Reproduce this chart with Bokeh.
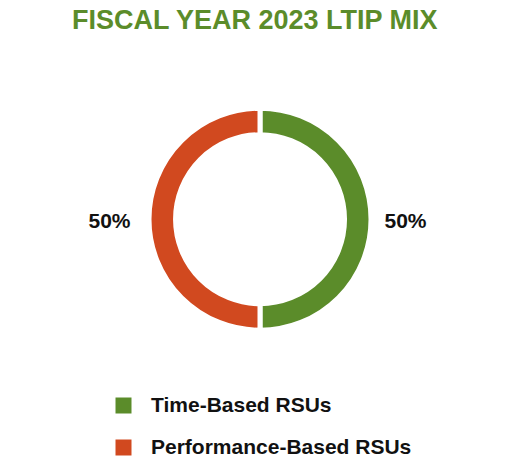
import math

from bokeh.plotting import figure
from bokeh.models import ColumnDataSource, Legend, LegendItem
from bokeh.embed import file_html
from bokeh.resources import INLINE

title = "FISCAL YEAR 2023 LTIP MIX"
categories = ["Time-Based RSUs", "Performance-Based RSUs"]
shares = [50, 50]
colors = ["#5B8C2A", "#D1491F"]

W, H = 510, 460
FONT = "Liberation Sans"

# wedge angles, starting at 12 o'clock and going clockwise
total = sum(shares)
starts, ends, mids = [], [], []
a = math.pi / 2
for v in shares:
    b = a - 2 * math.pi * v / total
    starts.append(a)
    ends.append(b)
    mids.append((a + b) / 2)
    a = b

cx, cy = 259.5, 239
r_lab = 148
src = ColumnDataSource(dict(
    cat=categories, share=shares, color=colors,
    start=starts, end=ends,
    lx=[cx - 2.5 + r_lab * math.cos(m) for m in mids],
    ly=[cy - 1.5 + r_lab * math.sin(m) for m in mids],
    lab=[f"{v}%" for v in shares],
))

p = figure(width=W, height=H, output_backend="svg", toolbar_location=None,
           x_range=(0, W), y_range=(0, H - 40), min_border=0)
p.title.text = title
p.title.align = "center"
p.title.text_font = FONT
p.title.text_font_size = "27px"
p.title.text_font_style = "bold"
p.title.text_color = "#5B8C2A"
p.title.standoff = 4
p.axis.visible = False
p.grid.visible = False
p.outline_line_color = None

p.annular_wedge(x=cx, y=cy, inner_radius=84.5, outer_radius=111,
                start_angle="end", end_angle="start", fill_color="color",
                line_color="white", line_width=5, source=src)

p.text(x="lx", y="ly", text="lab", source=src, text_align="center",
       text_baseline="middle", text_font_size="21px", text_font_style="bold",
       text_color="#111111", text_font={"value": FONT})

# zero-size rects used only as legend swatches
items = []
for c, col in zip(categories, colors):
    r = p.rect(x=[cx], y=[cy], width=0, height=0, fill_color=col, line_color=None)
    items.append(LegendItem(label=c, renderers=[r]))

legend = Legend(items=items, location=(113, 1), orientation="vertical",
                glyph_width=20, glyph_height=20, label_height=20,
                label_standoff=18, spacing=18, padding=0, margin=0,
                label_text_font=FONT, label_text_font_size="21px",
                label_text_font_style="bold", label_text_color="#111111",
                border_line_color=None, background_fill_alpha=0)
p.add_layout(legend)

open("out.html", "w").write(file_html(p, INLINE))
